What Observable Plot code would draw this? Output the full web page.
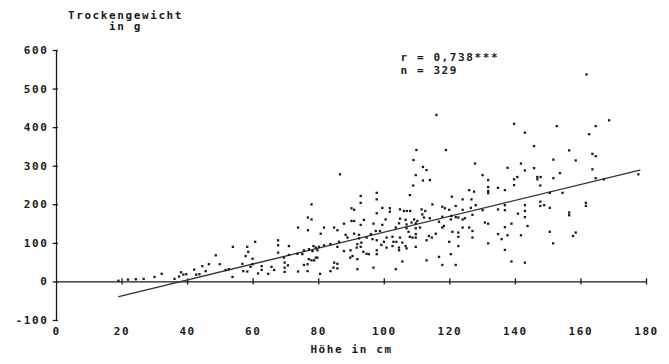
<!DOCTYPE html>
<html>
<head>
<meta charset="utf-8">
<script src="https://cdn.jsdelivr.net/npm/d3@7"></script>
<script src="https://cdn.jsdelivr.net/npm/@observablehq/plot@0.6"></script>
<style>
  html, body { margin: 0; padding: 0; background: #fff; }
</style>
</head>
<body>
<div id="chart"></div>
<script>
// Height (cm) and dry weight (g)
const hoehe = [
  18.9,21.8,24.2,26.6,29.9,32.1,36,37.4,38,38.7,39.6,42,42.6,43.6,
  44.5,46.5,48.6,49.8,45.5,53.8,53.7,51.6,52.6,58.2,58.5,57.7,60.6,59.8,56.7,57,58.2,59.2,59.8,61.5,62.6,62.6,64.6,65.6,66.4,67.6,67.6,67.6,69.4,69.6,69.6,69.6,70.6,70.9,70.9,
  86.5,77.8,76.7,77.8,73.7,76.7,81.6,80.6,84.7,85.7,87.7,92.8,92.8,90,90.8,90,90.8,92.8,93.8,97.7,97.7,99.4,97.7,96.7,99.4,88.2,88.8,90.8,92.3,92.3,94.6,95.9,97.4,98.7,96.4,97.7,86.2,83.6,85.7,81.6,80.1,79.1,78.4,77,75.5,73.5,75,78.1,79.6,79.1,79.6,77.8,78.6,77,76.6,75.5,73.7,76.6,80.4,84.7,85.7,84.5,85.7,83.6,87.7,89.7,90.3,89.6,91.6,91.8,92.8,93,91.8,93.6,94.6,95.3,91.8,96.7,97.7,97.7,99.1,99.9,
  115.9,109.8,118.8,108.9,111.8,112.9,109.6,111.8,113.9,108.8,127.7,125.9,127.4,107.8,120.6,123.9,126.6,114.7,121.8,117.7,118.5,119.8,123.9,101.7,101.7,104.8,106,106.9,107.9,111.4,112.5,111.6,112.1,113.9,100.4,104.8,106.5,109.1,110.1,117.7,120.5,121.8,122.6,123.9,124.6,126.9,116.7,120.3,104.5,106.8,108.3,109.6,103.5,106.8,109.6,110.9,117.7,118.2,123.9,125.9,120.8,122.6,126.9,107.4,107.8,108.6,109.6,109.6,113.6,114.5,115.7,112.9,102.5,100.7,102.8,103.7,104.8,105.5,106.5,106.8,104.5,102.5,100.7,104.5,109.6,122.6,122.6,126.9,119.8,120.3,105.5,103.5,112.9,116.7,117.7,121.8,
  139.6,142.9,152.6,145.7,137.6,141.7,142.9,145.7,151.6,130,131.7,139.6,140.6,139.6,146.7,147.7,146.7,147.6,151.6,153.6,131.7,131.7,131.7,134.7,136.8,150.5,154.4,127.9,126.4,130,134.7,136.8,136.8,142.9,142.9,142.9,140.8,147.6,147.6,148.8,150.5,130.7,131.7,136.8,138.8,143.7,131.7,134.7,135.8,137.6,141.7,150.5,151.5,136.8,138.8,142.9,
  161.7,168.6,164.5,162.5,156.4,163.5,164.5,158.4,163.5,164.5,167,177.5,161.5,161.5,156.4,156.4,158.4,157.6
];
const gewicht = [
  3,6,7,8,13,21,8,14,25,19,20,32,19,20,
  41,46,69,46,28,91,13,31,33,91,78,67,104,60,47,28,27,39,46,22,41,31,21,39,31,108,95,76,63,50,37,26,43,93,70,
  279,201,167,162,141,134,141,125,141,134,151,223,205,191,187,158,158,148,161,231,214,192,178,151,148,122,115,125,122,113,115,124,132,132,111,108,104,98,91,95,91,89,93,85,82,73,72,80,82,63,63,56,56,59,46,44,27,28,21,50,47,37,35,28,80,82,67,63,89,98,91,102,59,78,73,72,33,37,82,72,96,104,
  433,342,342,316,298,290,277,263,264,250,307,238,234,225,221,214,214,201,197,195,191,187,187,191,182,188,184,184,184,188,184,175,167,165,162,164,161,162,158,169,171,168,167,162,165,174,156,162,152,149,154,152,141,139,139,141,141,145,141,141,130,128,132,130,117,115,124,115,119,115,125,108,117,115,104,104,115,102,93,87,89,93,89,82,91,117,93,115,104,72,53,33,56,65,44,44,
  410,387,404,352,296,307,289,295,317,277,264,266,272,251,272,272,266,250,269,282,246,236,230,244,238,231,231,199,192,186,188,199,186,199,184,168,177,208,197,199,192,154,151,142,151,145,100,124,111,121,121,130,100,83,53,50,
  538,419,404,383,341,332,326,315,292,269,266,279,205,197,180,173,128,119
];
// Regression line end points
const regHoehe = [19, 178];
const regGewicht = [-38, 290];

const xTicks = [0, 20, 40, 60, 80, 100, 120, 140, 160, 180];
const yTicks = [-100, 0, 100, 200, 300, 400, 500, 600];
const yLabel = "Trockengewicht\nin g";
const xLabel = "Höhe in cm";
const statText = "r = 0,738***\nn = 329";

const points = hoehe.map((h, i) => ({h, g: gewicht[i]}));
const reg = regHoehe.map((h, i) => ({h, g: regGewicht[i]}));
const ink = "#1a1a1a";

const chart = Plot.plot({
  width: 669,
  height: 364,
  marginLeft: 56,
  marginRight: 23,
  marginTop: 50,
  marginBottom: 44,
  x: {domain: [0, 180]},
  y: {domain: [-100, 600]},
  style: {
    fontFamily: "'DejaVu Sans Mono', monospace",
    fontSize: "11px",
    fontWeight: "bold",
    letterSpacing: "1.6px",
    background: "#fff",
    color: ink
  },
  marks: [
    Plot.axisY({ticks: yTicks, tickSize: 0, tickPadding: 8, label: null, tickFormat: d => String(d)}),
    Plot.axisX({ticks: xTicks, tickSize: 0, tickPadding: 7, label: null, tickFormat: d => String(d)}),
    Plot.ruleX([0], {y1: yTicks[0], y2: yTicks[yTicks.length - 1], stroke: ink, strokeWidth: 1.3}),
    Plot.ruleY([0], {x1: xTicks[0], x2: xTicks[xTicks.length - 1], stroke: ink, strokeWidth: 1.3}),
    Plot.ruleY(yTicks, {y: d => d, x1: -1, x2: 0.6, stroke: ink, strokeWidth: 1.3}),
    Plot.ruleX(xTicks.slice(1), {x: d => d, y1: -8, y2: 8, stroke: ink, strokeWidth: 1.3}),
    Plot.line(reg, {x: "h", y: "g", stroke: "#333", strokeWidth: 1.3}),
    Plot.dot(points, {x: "h", y: "g", symbol: "square", r: 1.3, fill: ink, stroke: "none"}),
    Plot.text([yLabel], {frameAnchor: "top-left", dx: 69, dy: -40, lineAnchor: "top", textAnchor: "middle", lineHeight: 1.05, fill: ink}),
    Plot.text([statText], {frameAnchor: "top-left", dx: 344, dy: 1, lineAnchor: "top", textAnchor: "start", lineHeight: 1.18, fill: ink}),
    Plot.text([xLabel], {frameAnchor: "bottom", dy: 32, textAnchor: "middle", fill: ink})
  ]
});
document.getElementById("chart").appendChild(chart);
</script>
</body>
</html>
